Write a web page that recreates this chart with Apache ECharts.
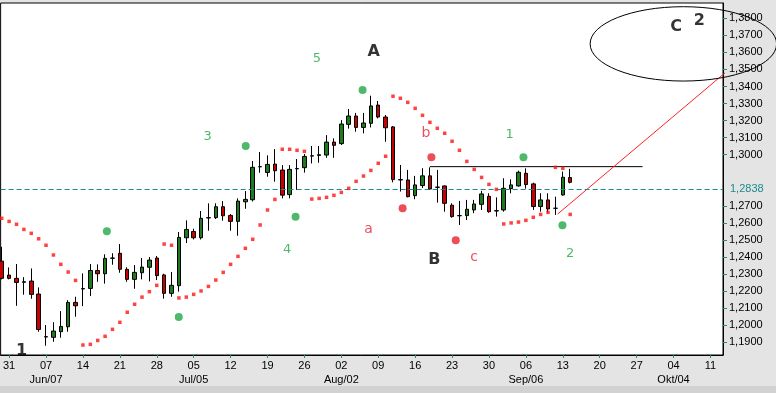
<!DOCTYPE html>
<html><head><meta charset="utf-8">
<script src="https://cdn.jsdelivr.net/npm/echarts@6/dist/echarts.min.js"></script>
<style>html,body{margin:0;padding:0;background:#e4e4e4}#c{width:776px;height:393px}</style>
</head><body><div id="c"></div><script>
// Trading days (EUR/USD daily, 2010)
const dates = ['05-28','05-31','06-01','06-02','06-03','06-04','06-07','06-08','06-09','06-10','06-11',
'06-14','06-15','06-16','06-17','06-18','06-21','06-22','06-23','06-24','06-25','06-28','06-29','06-30','07-01','07-02',
'07-05','07-06','07-07','07-08','07-09','07-12','07-13','07-14','07-15','07-16','07-19','07-20','07-21','07-22','07-23',
'07-26','07-27','07-28','07-29','07-30','08-02','08-03','08-04','08-05','08-06','08-09','08-10','08-11','08-12','08-13',
'08-16','08-17','08-18','08-19','08-20','08-23','08-24','08-25','08-26','08-27','08-30','08-31','09-01','09-02','09-03',
'09-06','09-07','09-08','09-09','09-10','09-13','09-14'];
const openV  = [1.2376,1.2294,1.2275,1.2255,1.2259,1.2183,1.1933,1.1929,1.1962,1.1991,1.2134,1.2213,1.2216,1.2321,1.2302,1.2393,1.2422,1.2328,1.2269,1.2308,1.2340,1.2394,1.2295,1.2187,1.2232,1.2513,1.2550,1.2513,1.2629,1.2631,1.2695,1.2644,1.2609,1.2724,1.2736,1.2930,1.2896,1.2945,1.2910,1.2766,1.2917,1.2924,1.2992,1.2996,1.2998,1.3074,1.3065,1.3178,1.3227,1.3160,1.3184,1.3291,1.3221,1.3163,1.2854,1.2852,1.2760,1.2819,1.2876,1.2810,1.2817,1.2704,1.2643,1.2643,1.2676,1.2709,1.2756,1.2670,1.2676,1.2801,1.2817,1.2891,1.2829,1.2696,1.2735,1.2686,1.2764,1.2866];
const closeV = [1.2275,1.2275,1.2251,1.2252,1.2181,1.1975,1.1931,1.1966,1.1993,1.2134,1.2114,1.2215,1.2321,1.2302,1.2392,1.2394,1.2328,1.2269,1.2310,1.2341,1.2382,1.2291,1.2187,1.2234,1.2515,1.2562,1.2513,1.2627,1.2631,1.2695,1.2642,1.2609,1.2728,1.2738,1.2926,1.2929,1.2943,1.2906,1.2763,1.2914,1.2919,1.2990,1.2994,1.3000,1.3074,1.3055,1.3180,1.3227,1.3160,1.3186,1.3286,1.3221,1.3158,1.2854,1.2852,1.2754,1.2823,1.2876,1.2799,1.2809,1.2715,1.2637,1.2642,1.2680,1.2711,1.2770,1.2666,1.2672,1.2803,1.2823,1.2897,1.2825,1.2696,1.2735,1.2682,1.2686,1.2868,1.2838];
const lowV   = [1.2269,1.2269,1.2114,1.2179,1.2155,1.1962,1.1880,1.1903,1.1927,1.1962,1.2050,1.2112,1.2171,1.2255,1.2244,1.2355,1.2308,1.2255,1.2214,1.2269,1.2257,1.2265,1.2156,1.2167,1.2197,1.2482,1.2503,1.2503,1.2554,1.2623,1.2613,1.2554,1.2525,1.2683,1.2726,1.2894,1.2871,1.2842,1.2744,1.2744,1.2793,1.2895,1.2949,1.2953,1.2982,1.2982,1.3057,1.3153,1.3135,1.3125,1.3160,1.3213,1.3076,1.2838,1.2784,1.2750,1.2739,1.2805,1.2793,1.2719,1.2666,1.2631,1.2588,1.2617,1.2657,1.2676,1.2660,1.2637,1.2666,1.2774,1.2813,1.2801,1.2676,1.2666,1.2660,1.2647,1.2760,1.2832];
const highV  = [1.2460,1.2339,1.2359,1.2282,1.2333,1.2222,1.2001,1.2018,1.2083,1.2147,1.2167,1.2304,1.2359,1.2357,1.2416,1.2422,1.2476,1.2340,1.2353,1.2394,1.2400,1.2406,1.2302,1.2312,1.2547,1.2615,1.2566,1.2670,1.2715,1.2715,1.2728,1.2652,1.2744,1.2787,1.2963,1.3016,1.2996,1.3033,1.2939,1.2939,1.2975,1.3004,1.3051,1.3051,1.3115,1.3096,1.3203,1.3268,1.3245,1.3245,1.3346,1.3315,1.3233,1.3168,1.2940,1.2911,1.2876,1.2921,1.2926,1.2911,1.2820,1.2715,1.2729,1.2735,1.2735,1.2788,1.2774,1.2750,1.2862,1.2856,1.2907,1.2920,1.2836,1.2774,1.2774,1.2754,1.2901,1.2917];
// Parabolic SAR
const sarV = [1.2627,1.2609,1.2592,1.2562,1.2539,1.2507,1.2469,1.2412,1.2357,1.2312,1.2263,
1.1884,1.1888,1.1911,1.1935,1.1976,1.2017,1.2076,1.2123,1.2165,1.2197,1.2234,
1.2476,1.2469,
1.2160,1.2165,1.2181,1.2201,1.2228,1.2265,1.2310,1.2357,1.2404,1.2451,1.2504,1.2588,1.2676,1.2738,
1.3032,1.3032,1.3026,1.3020,
1.2740,1.2744,1.2750,1.2762,1.2779,1.2803,1.2844,1.2875,1.2908,1.2950,1.2991,
1.3343,1.3331,1.3307,1.3272,1.3231,1.3190,1.3155,1.3126,1.3079,1.3026,1.2961,1.2914,1.2867,1.2826,1.2797,
1.2594,1.2600,1.2605,1.2615,1.2633,1.2650,1.2662,
1.2926,1.2920,
1.2650];
// Marker dots
const greenDotX = [14.24,23.98,33.05,39.8,48.88,70.67,75.95];
const greenDotY = [1.2551,1.2048,1.3051,1.2636,1.3379,1.2985,1.2586];
const redDotX = [54.3,58.2,61.5];
const redDotY = [1.2686,1.2985,1.2498];
// Wave labels
const greenLabText = ['3','4','5','1','2'];
const greenLabX = [27.9,38.65,42.7,68.8,77.0];
const greenLabY = [1.3106,1.2441,1.3565,1.3116,1.2422];
const redLabText = ['a','b','c'];
const redLabX = [49.7,57.46,64.0];
const redLabY = [1.2562,1.3126,1.2398];
const blackLabText = ['1','A','B','C','2'];
const blackLabX = [2.7,50.4,58.6,91.34,94.5];
const blackLabY = [1.1849,1.3604,1.2382,1.3751,1.3786];
// Lines
const lastPrice = 1.2838;
const resistX = [58.0, 86.8];
const resistY = [1.2930, 1.2930];
const trendX = [75.3, 98.6];
const trendY = [1.2652, 1.3503];
const ellipseC = [92.33, 1.3650];
const ellipseR = [12.63, 0.0218];
// Axis ticks
const xTickIdx = [1,6,11,16,21,26,31,36,41,46,51,56,61,66,71,76,81,86,91,96];
const xTickDay = ['31','07','14','21','28','05','12','19','26','02','09','16','23','30','06','13','20','27','04','11'];
const xTickMonth = ['','Jun/07','','','','Jul/05','','','','Aug/02','','','','','Sep/06','','','','Okt/04',''];
const yTickVals = [1.19,1.20,1.21,1.22,1.23,1.24,1.25,1.26,1.27,1.30,1.31,1.32,1.33,1.34,1.35,1.36,1.37,1.38];

const TEAL = '#1a8c8c';
const fmt = v => v.toFixed(4).replace('.', ',');
const zip = (xs, ys) => xs.map((x, i) => [x, ys[i]]);
const zip3 = (xs, ys, ts) => xs.map((x, i) => [x, ys[i], ts[i]]);

const chart = echarts.init(document.getElementById('c'), null, {renderer: 'canvas'});
const labelSeries = (name, data, color, size, weight) => ({
  name, type: 'scatter', data, symbolSize: 1, itemStyle: {color: 'rgba(0,0,0,0)'}, z: 10, clip: false,
  label: {show: true, position: 'inside', formatter: p => p.data[2], color, fontSize: size,
    fontWeight: weight, fontFamily: 'DejaVu Sans'}
});
chart.setOption({
  animation: false,
  backgroundColor: '#e4e4e4',
  grid: {left: 0, right: 53, top: 3, bottom: 38, show: true, backgroundColor: '#fff', borderColor: '#000', borderWidth: 1},
  xAxis: {
    type: 'value', min: -0.15, max: 97.7,
    axisLine: {show: true, onZero: false, lineStyle: {color: '#000'}},
    axisTick: {show: true, customValues: xTickIdx, length: 3, lineStyle: {color: TEAL}},
    axisLabel: {customValues: xTickIdx, fontSize: 11, color: '#000', fontFamily: 'Liberation Sans', margin: 4, lineHeight: 14,
      formatter: v => { const k = xTickIdx.indexOf(Math.round(v)); if (k < 0) return ''; return xTickMonth[k] ? xTickDay[k] + '\n' + xTickMonth[k] : xTickDay[k]; }},
    splitLine: {show: false}
  },
  yAxis: {
    type: 'value', position: 'right', min: 1.18255, max: 1.38897, scale: true,
    axisLine: {show: true, onZero: false, lineStyle: {color: '#000'}},
    axisTick: {show: true, customValues: yTickVals, length: 4, lineStyle: {color: TEAL}},
    axisLabel: {customValues: yTickVals, fontSize: 11, color: '#000', fontFamily: 'Liberation Sans', margin: 6, formatter: v => fmt(v)},
    splitLine: {show: false}
  },
  series: [
    {
      name: 'EURUSD', type: 'candlestick', barWidth: 4,
      data: dates.map((d, i) => [i, openV[i], closeV[i], lowV[i], highV[i]]),
      encode: {x: 0, y: [1, 2, 3, 4]},
      itemStyle: {color: '#1e7a1e', color0: '#c80000', borderColor: '#000', borderColor0: '#000', borderColorDoji: '#000', borderWidth: 1},
      markLine: {
        silent: true, symbol: 'none',
        lineStyle: {color: TEAL, type: [5, 3], width: 1},
        label: {position: 'end', formatter: fmt(lastPrice), color: TEAL, fontSize: 11, fontFamily: 'Liberation Sans', distance: 7},
        data: [{yAxis: lastPrice}]
      }
    },
    {name: 'SAR', type: 'scatter', data: sarV.map((v, i) => [i, v]), symbol: 'rect', symbolSize: 3.5, itemStyle: {color: '#ff1414'}, z: 5},
    {name: 'green', type: 'scatter', data: zip(greenDotX, greenDotY), symbol: 'circle', symbolSize: 8, itemStyle: {color: '#22a846'}, z: 6},
    {name: 'red', type: 'scatter', data: zip(redDotX, redDotY), symbol: 'circle', symbolSize: 8, itemStyle: {color: '#e8202c'}, z: 6},
    {name: 'resist', type: 'line', data: zip(resistX, resistY), symbol: 'none', lineStyle: {color: '#000', width: 1}, z: 4},
    {name: 'trend', type: 'line', data: zip(trendX, trendY), symbol: 'none', clip: false, lineStyle: {color: '#ff2020', width: 1}, z: 4},
    labelSeries('gl', zip3(greenLabX, greenLabY, greenLabText), '#22a846', 13, 'normal'),
    labelSeries('rl', zip3(redLabX, redLabY, redLabText), '#e8203a', 14, 'normal'),
    labelSeries('bl', zip3(blackLabX, blackLabY, blackLabText), '#000', 16, 'bold')
  ]
});
// ellipse annotation positioned through the chart's own scales
const c0 = chart.convertToPixel({gridIndex: 0}, ellipseC);
const c1 = chart.convertToPixel({gridIndex: 0}, [ellipseC[0] + ellipseR[0], ellipseC[1] - ellipseR[1]]);
const rx = Math.abs(c1[0] - c0[0]), ry = Math.abs(c1[1] - c0[1]);
chart.setOption({graphic: [
  {type: 'ellipse', shape: {cx: c0[0], cy: c0[1], rx: rx, ry: ry}, z: 100,
   style: {fill: 'none', stroke: '#000', lineWidth: 1}},
  {type: 'rect', left: 0, bottom: 0, shape: {width: 776, height: 7}, style: {fill: '#d2d2d2'}, z: -1}
]});
</script></body></html>
